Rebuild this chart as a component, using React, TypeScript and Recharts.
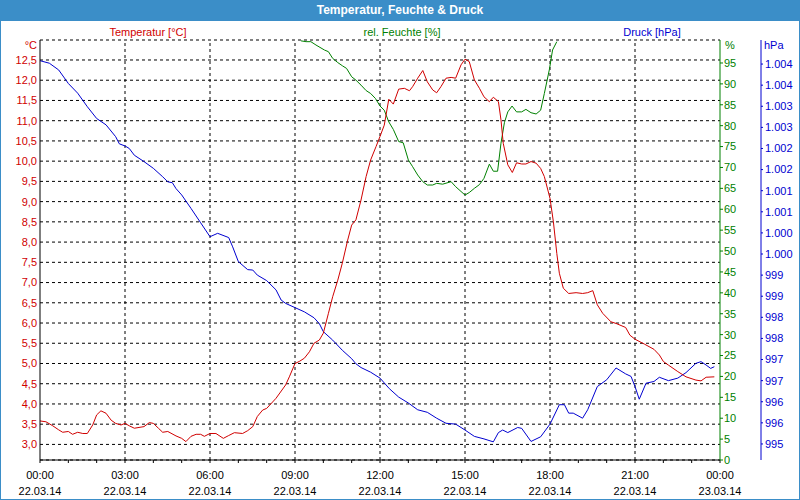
import { LineChart, Line, XAxis, YAxis, CartesianGrid, ReferenceLine } from 'recharts';

const FRAME = '#3b8ec8';
const RED = '#d00000';
const GREEN = '#008000';
const BLUE = '#0000d0';

const HOUR_TICKS = [0, 1, 2, 3, 4, 5, 6, 7, 8, 9, 10, 11, 12, 13, 14, 15, 16, 17, 18, 19, 20, 21, 22, 23, 24];
const MAJOR_HOURS = [0, 3, 6, 9, 12, 15, 18, 21, 24];
const TIME_LABELS = ['00:00', '03:00', '06:00', '09:00', '12:00', '15:00', '18:00', '21:00', '00:00'];
const DATE_LABELS = ['22.03.14', '22.03.14', '22.03.14', '22.03.14', '22.03.14', '22.03.14', '22.03.14', '22.03.14', '23.03.14'];

const TEMP_TICKS = [3, 3.5, 4, 4.5, 5, 5.5, 6, 6.5, 7, 7.5, 8, 8.5, 9, 9.5, 10, 10.5, 11, 11.5, 12, 12.5];
const HUM_TICKS = [0, 5, 10, 15, 20, 25, 30, 35, 40, 45, 50, 55, 60, 65, 70, 75, 80, 85, 90, 95];
const PRES_TICKS = [
  995.25, 995.75, 996.25, 996.75, 997.25, 997.75, 998.25, 998.75, 999.25, 999.75,
  1000.25, 1000.75, 1001.25, 1001.75, 1002.25, 1002.75, 1003.25, 1003.75, 1004.25,
];

// Temperatur [°C]
const tempHours = [
  0, 0.21, 0.45, 0.66, 0.8, 1, 1.15, 1.33, 1.51, 1.67, 1.86, 2, 2.15, 2.33, 2.51, 2.67, 2.86, 3, 3.15, 3.33,
  3.67, 3.86, 4, 4.18, 4.33, 4.51, 4.8, 5, 5.15, 5.33, 5.51, 5.67, 5.8, 6, 6.21, 6.47, 6.66, 6.86, 7.15, 7.33,
  7.51, 7.67, 7.86, 8, 8.33, 8.67, 8.8, 9, 9.15, 9.33, 9.51, 9.67, 9.86, 10, 10.18, 10.33, 10.51, 10.67, 10.86, 11,
  11.15, 11.33, 11.51, 11.67, 11.86, 12, 12.15, 12.31, 12.47, 12.66, 12.86, 13.04, 13.15, 13.33, 13.51, 13.67, 13.86, 14, 14.15, 14.33,
  14.51, 14.67, 14.86, 15, 15.15, 15.33, 15.51, 15.67, 15.86, 16, 16.18, 16.27, 16.35, 16.51, 16.67, 16.82, 17, 17.15, 17.33, 17.51,
  17.67, 17.8, 18, 18.12, 18.24, 18.33, 18.47, 18.66, 18.92, 19.15, 19.33, 19.51, 19.67, 19.86, 20.15, 20.33, 20.67, 20.82, 21, 21.33,
  21.67, 21.86, 22, 22.18, 22.51, 22.8, 23.15, 23.33, 23.51, 23.8,
];
const tempValues = [
  3.58, 3.56, 3.46, 3.36, 3.3, 3.32, 3.25, 3.3, 3.27, 3.27, 3.48, 3.73, 3.83, 3.77, 3.6, 3.52, 3.48, 3.52, 3.46, 3.4,
  3.44, 3.54, 3.52, 3.4, 3.3, 3.32, 3.21, 3.15, 3.07, 3.2, 3.25, 3.25, 3.2, 3.27, 3.27, 3.15, 3.22, 3.29, 3.27, 3.34,
  3.44, 3.69, 3.85, 3.89, 4.14, 4.47, 4.67, 5.0, 5.05, 5.13, 5.29, 5.5, 5.58, 5.75, 6.24, 6.65, 7.06, 7.48, 8.05, 8.42,
  8.55, 9.04, 9.62, 10.03, 10.36, 10.61, 10.89, 11.53, 11.41, 11.78, 11.8, 11.74, 11.84, 12.05, 12.24, 11.96, 11.76, 11.69, 11.84, 12.05,
  12.07, 12.05, 12.38, 12.52, 12.46, 12.01, 11.8, 11.59, 11.47, 11.58, 11.47, 11.02, 10.44, 9.91, 9.72, 9.96, 9.93, 9.93, 9.99, 9.95,
  9.82, 9.62, 9.08, 8.5, 7.72, 7.23, 6.86, 6.73, 6.75, 6.73, 6.75, 6.8, 6.45, 6.24, 6.03, 5.99, 5.89, 5.7, 5.6, 5.48,
  5.35, 5.21, 5.05, 4.96, 4.8, 4.67, 4.59, 4.57, 4.66, 4.67,
];

// rel. Feuchte [%]
const humHours = [
  9.21, 9.39, 9.56, 9.74, 10.04, 10.18, 10.33, 10.51, 10.68, 10.82, 11, 11.15, 11.33, 11.51, 11.67, 11.84, 12, 12.15, 12.31, 12.47,
  12.66, 12.82, 13, 13.15, 13.33, 13.51, 13.67, 13.86, 14, 14.21, 14.51, 14.67, 15, 15.15, 15.33, 15.51, 15.67, 15.86, 16, 16.15,
  16.27, 16.39, 16.51, 16.66, 16.82, 17, 17.15, 17.33, 17.51, 17.67, 17.8, 17.98, 18.09, 18.24,
];
const humValues = [
  100.3, 100.1, 100.1, 99.3, 98.1, 97.7, 96.1, 95.1, 94.3, 93.7, 91.7, 90.9, 89.7, 88.4, 87.7, 86.5, 84.7, 83.7, 80.9, 79.1,
  76.2, 75.9, 71.8, 70.2, 68.2, 66.6, 65.8, 65.8, 66.2, 66.0, 66.6, 65.4, 63.4, 64.0, 65.0, 65.9, 67.4, 70.8, 69.1, 69.1,
  75.8, 80.7, 83.3, 84.7, 83.3, 83.3, 83.9, 83.1, 82.8, 83.7, 87.7, 93.5, 98.1, 100.1,
];

// Druck [hPa]
const presHours = [
  0, 0.33, 0.66, 1, 1.33, 1.67, 2, 2.33, 2.67, 2.8, 3, 3.15, 3.33, 3.67, 4, 4.33, 4.51, 4.67, 4.8, 5,
  5.33, 5.67, 6, 6.27, 6.66, 6.8, 7, 7.33, 7.51, 7.67, 8, 8.33, 8.51, 8.67, 9, 9.33, 9.67, 9.86, 10, 10.33,
  10.67, 11, 11.15, 11.33, 11.67, 12, 12.33, 12.66, 13, 13.33, 13.67, 14, 14.33, 14.67, 15, 15.33, 15.67, 16, 16.18, 16.33,
  16.51, 16.86, 17, 17.33, 17.67, 18, 18.33, 18.51, 18.66, 18.82, 19.15, 19.33, 19.67, 20, 20.33, 20.67, 20.86, 21, 21.15, 21.39,
  21.67, 21.86, 22.18, 22.51, 22.8, 23.15, 23.33, 23.51, 23.67, 23.8,
];
const presValues = [
  1004.33, 1004.27, 1004.11, 1003.79, 1003.56, 1003.24, 1002.96, 1002.81, 1002.53, 1002.36, 1002.31, 1002.25, 1002.09, 1001.94, 1001.78, 1001.58, 1001.46, 1001.44, 1001.3, 1001.15,
  1000.83, 1000.49, 1000.16, 1000.24, 1000.14, 999.92, 999.57, 999.38, 999.37, 999.25, 999.12, 998.9, 998.66, 998.58, 998.48, 998.38, 998.24, 998.1, 997.91, 997.71,
  997.47, 997.27, 997.15, 997.06, 996.95, 996.81, 996.56, 996.36, 996.22, 996.06, 996.0, 995.86, 995.74, 995.72, 995.58, 995.43, 995.37, 995.3, 995.52, 995.58,
  995.52, 995.64, 995.62, 995.31, 995.42, 995.72, 996.18, 996.18, 995.98, 995.98, 995.86, 996.06, 996.61, 996.77, 997.05, 996.91, 996.85, 996.61, 996.31, 996.69,
  996.73, 996.83, 996.75, 996.81, 996.94, 997.16, 997.2, 997.12, 997.04, 997.08,
];

const tempData = tempHours.map((h, i) => ({ h, v: tempValues[i] }));
const humData = humHours.map((h, i) => ({ h, v: humValues[i] }));
const presData = presHours.map((h, i) => ({ h, v: presValues[i] }));

const fmtTemp = (v: number) => v.toFixed(1).replace('.', ',');
const fmtPres = (v: number) => {
  const n = Math.round(v);
  return n >= 1000 ? `${Math.floor(n / 1000)}.${String(n % 1000).padStart(3, '0')}` : String(n);
};

function HourTick({ x, y, payload }: any) {
  const i = MAJOR_HOURS.indexOf(payload.value);
  if (i < 0) return <g />;
  return (
    <g>
      <text x={x} y={y} dy={14} textAnchor="middle" fill="#000" fontSize={11}>
        {TIME_LABELS[i]}
      </text>
      <text x={x} y={y} dy={30} textAnchor="middle" fill="#000" fontSize={11}>
        {DATE_LABELS[i]}
      </text>
    </g>
  );
}

const abs = (left: number, top: number, extra: any = {}) => ({
  position: 'absolute' as const,
  left,
  top,
  fontSize: 11,
  lineHeight: '12px',
  whiteSpace: 'nowrap' as const,
  ...extra,
});

export default function App() {
  return (
    <div
      style={{
        position: 'absolute',
        left: 0,
        top: 0,
        width: 800,
        height: 500,
        background: '#fff',
        fontFamily: '"Liberation Sans", Arial, sans-serif',
        overflow: 'hidden',
      }}
    >
      <LineChart width={800} height={500} margin={{ top: 40, right: 0, bottom: 0, left: 0 }}>
        <CartesianGrid vertical={false} stroke="#000" strokeDasharray="3 3" />
        {MAJOR_HOURS.slice(1, -1).map((h) => (
          <ReferenceLine key={h} x={h} stroke="#000" strokeDasharray="3 3" />
        ))}
        <XAxis
          type="number"
          dataKey="h"
          domain={[0, 24]}
          ticks={HOUR_TICKS}
          interval={0}
          height={40}
          stroke="#000"
          tickSize={3}
          tickMargin={2}
          tick={<HourTick />}
          allowDataOverflow
        />
        <XAxis
          xAxisId="top"
          orientation="top"
          type="number"
          domain={[0, 24]}
          height={0}
          tick={false}
          tickLine={false}
          stroke="#000"
        />
        <YAxis
          type="number"
          domain={[2.615, 12.994]}
          ticks={TEMP_TICKS}
          interval={0}
          width={40}
          stroke="#000"
          tickLine={false}
          tickSize={0}
          tickMargin={3}
          tickFormatter={fmtTemp}
          tick={{ fill: RED, fontSize: 11 }}
          allowDataOverflow
        />
        <YAxis
          yAxisId="hum"
          orientation="right"
          type="number"
          domain={[0, 100.5]}
          ticks={HUM_TICKS}
          interval={0}
          width={41}
          stroke={GREEN}
          tickSize={3}
          tickMargin={1}
          tick={{ fill: GREEN, fontSize: 11 }}
          allowDataOverflow
        />
        <YAxis
          yAxisId="pres"
          orientation="right"
          type="number"
          domain={[994.87, 1004.82]}
          ticks={PRES_TICKS}
          interval={0}
          width={39}
          stroke={BLUE}
          tickSize={2}
          tickMargin={2}
          tickFormatter={fmtPres}
          tick={{ fill: BLUE, fontSize: 11 }}
          allowDataOverflow
        />
        <Line data={presData} dataKey="v" yAxisId="pres" stroke={BLUE} strokeWidth={1} dot={false} isAnimationActive={false} />
        <Line data={humData} dataKey="v" yAxisId="hum" stroke={GREEN} strokeWidth={1} dot={false} isAnimationActive={false} />
        <Line data={tempData} dataKey="v" stroke={RED} strokeWidth={1} dot={false} isAnimationActive={false} />
      </LineChart>

      <div
        style={{
          position: 'absolute',
          left: 0,
          top: 0,
          width: 800,
          height: 21,
          background: FRAME,
          color: '#fff',
          fontWeight: 'bold',
          fontSize: 12,
          lineHeight: '21px',
          textAlign: 'center',
        }}
      >
        Temperatur, Feuchte &amp; Druck
      </div>
      <div
        style={{
          position: 'absolute',
          left: 0,
          top: 0,
          width: 800,
          height: 500,
          boxSizing: 'border-box',
          border: `1px solid ${FRAME}`,
          pointerEvents: 'none',
        }}
      />

      <div style={abs(88, 26, { width: 120, textAlign: 'center', color: RED })}>Temperatur [°C]</div>
      <div style={abs(342, 26, { width: 120, textAlign: 'center', color: GREEN })}>rel. Feuchte [%]</div>
      <div style={abs(592, 26, { width: 120, textAlign: 'center', color: BLUE })}>Druck [hPa]</div>
      <div style={abs(0, 39, { width: 37, textAlign: 'right', color: RED })}>°C</div>
      <div style={abs(725, 39, { color: GREEN })}>%</div>
      <div style={abs(764, 39, { color: BLUE })}>hPa</div>
    </div>
  );
}
